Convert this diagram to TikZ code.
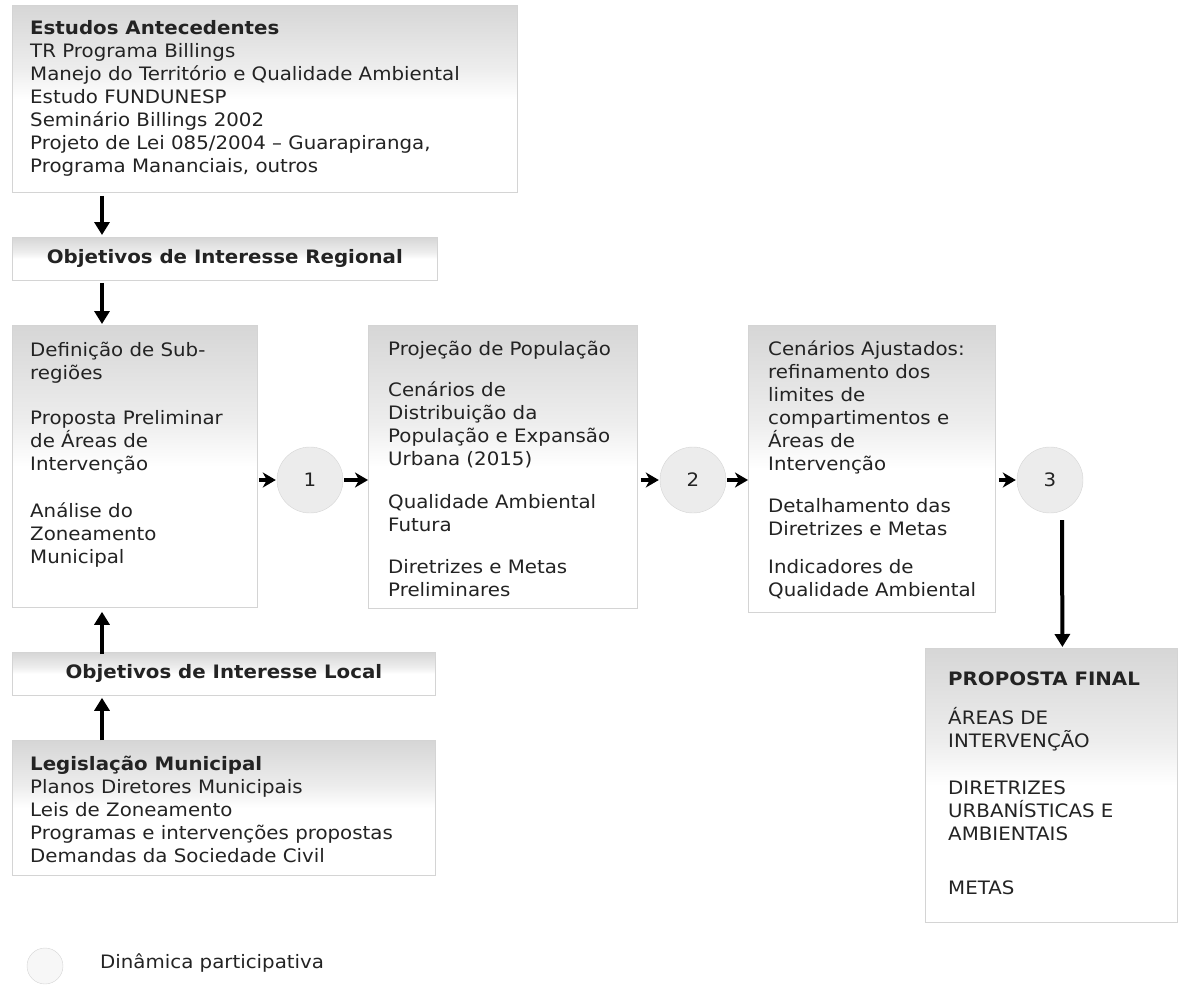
\documentclass[tikz,border=0pt]{standalone}
\usepackage{fontspec}
\setmainfont{DejaVu Sans}[FakeStretch=1.07]
\usetikzlibrary{arrows.meta,positioning,calc}
\definecolor{inkG}{RGB}{35,35,35}
\definecolor{rimG}{RGB}{212,212,212}
\definecolor{dotG}{RGB}{236,236,236}
\pgfdeclareverticalshading{panelfade}{100bp}{color(0bp)=(white); color(50bp)=(white); color(58bp)=(black!7); color(75bp)=(black!16); color(100bp)=(black!16)}

\begin{document}
\begin{tikzpicture}[x=1pt, y=-1pt, font=\fontsize{18.5}{23}\selectfont,
  panel/.style={draw=rimG, line width=0.8pt, shading=panelfade, anchor=north west,
    inner sep=0pt, text=inkG, font=\fontsize{18.5}{23}\selectfont\bfseries},
  txt/.style={anchor=north west, align=left, inner sep=0pt, text=inkG},
  dyn/.style={circle, draw=rimG, fill=dotG, minimum size=66pt, inner sep=0pt, text=inkG},
  varrow/.style={-{Triangle[length=13pt,width=15pt]}, line width=4pt},
  harrow/.style={-{Stealth[length=13pt,width=15pt,inset=4pt]}, line width=4pt}]
  \useasboundingbox (0,0) rectangle (1186,994);

  % sources and objectives
  \node[panel, minimum width=505pt, minimum height=187pt] (estudos) at (12,5) {};
  \node[txt] (estudosT) at (30,20.5)
    {\textbf{Estudos Antecedentes}\\
     TR Programa Billings\\
     Manejo do Território e Qualidade Ambiental\\
     Estudo FUNDUNESP\\
     Seminário Billings 2002\\
     Projeto de Lei 085/2004 -- Guarapiranga,\\
     Programa Mananciais, outros};
  \node[panel, minimum width=425pt, minimum height=43pt] (regional) at (12,237)
    {Objetivos de Interesse Regional};
  \node[panel, minimum width=423pt, minimum height=43pt] (local) at (12,652)
    {Objetivos de Interesse Local};
  \node[panel, minimum width=423pt, minimum height=135pt] (legis) at (12,740) {};
  \node[txt] (legisT) at (30,755.5)
    {\textbf{Legislação Municipal}\\
     Planos Diretores Municipais\\
     Leis de Zoneamento\\
     Programas e intervenções propostas\\
     Demandas da Sociedade Civil};

  % the three stages
  \node[panel, minimum width=245pt, minimum height=282pt] (etapaA) at (12,325) {};
  \node[txt] (etapaAT) at (30,341.5)
    {Definição de Sub-\\regiões\\[22pt]
     Proposta Preliminar\\de Áreas de\\Intervenção\\[24pt]
     Análise do\\Zoneamento\\Municipal};
  \node[panel, minimum width=269pt, minimum height=283pt] (etapaB) at (368,325) {};
  \node[txt] (etapaBT) at (388,340.5)
    {Projeção de População\\[18pt]
     Cenários de\\Distribuição da\\População e Expansão\\Urbana (2015)\\[20pt]
     Qualidade Ambiental\\Futura\\[19pt]
     Diretrizes e Metas\\Preliminares};
  \node[panel, minimum width=247pt, minimum height=287pt] (etapaC) at (748,325) {};
  \node[txt] (etapaCT) at (768,340.5)
    {Cenários Ajustados:\\refinamento dos\\limites de\\compartimentos e\\Áreas de\\Intervenção\\[19pt]
     Detalhamento das\\Diretrizes e Metas\\[15pt]
     Indicadores de\\Qualidade Ambiental};
  \node[panel, minimum width=252pt, minimum height=274pt] (final) at (925,648) {};
  \node[txt] (finalT) at (948,671.5)
    {\textbf{PROPOSTA FINAL}\\[16pt]
     ÁREAS DE\\INTERVENÇÃO\\[24pt]
     DIRETRIZES\\URBANÍSTICAS E\\AMBIENTAIS\\[31pt]
     METAS};

  % participative steps
  \node[dyn] (dyn1) at (310,480) {1};
  \node[dyn] (dyn2) at (693,480) {2};
  \node[dyn] (dyn3) at (1050,480) {3};

  % connectors
  \draw[varrow] ([xshift=90pt,yshift=-3pt]estudos.south west) -- ([xshift=90pt,yshift=2pt]regional.north west);
  \draw[varrow] ([xshift=90pt,yshift=-2pt]regional.south west) -- ([xshift=90pt,yshift=1pt]etapaA.north west);
  \draw[varrow] ([xshift=90pt,yshift=-2pt]local.north west) -- ([xshift=90pt,yshift=-4pt]etapaA.south west);
  \draw[varrow] ([xshift=90pt]legis.north west) -- ([xshift=90pt,yshift=-2pt]local.south west);
  \draw[harrow] (etapaA.east |- dyn1.west) ++(1,0) -- ([xshift=-1pt]dyn1.west);
  \draw[harrow] ([xshift=1pt]dyn1.east) -- (etapaB.west |- dyn1.east);
  \draw[harrow] (etapaB.east |- dyn2.west) ++(3,0) -- ([xshift=-1pt]dyn2.west);
  \draw[harrow] ([xshift=1pt]dyn2.east) -- (etapaC.west |- dyn2.east);
  \draw[harrow] (etapaC.east |- dyn3.west) ++(3,0) -- ([xshift=-1pt]dyn3.west);
  \draw[varrow] ([xshift=12pt,yshift=-7pt]dyn3.south) -- ([xshift=11pt,yshift=1pt]final.north);

  % legend
  \node[dyn, minimum size=36pt, fill=black!3] (legdyn) at (45,966) {};
  \node[anchor=base west, inner sep=0pt, text=inkG] (legtxt) at (100,968.5) {Dinâmica participativa};
\end{tikzpicture}
\end{document}
